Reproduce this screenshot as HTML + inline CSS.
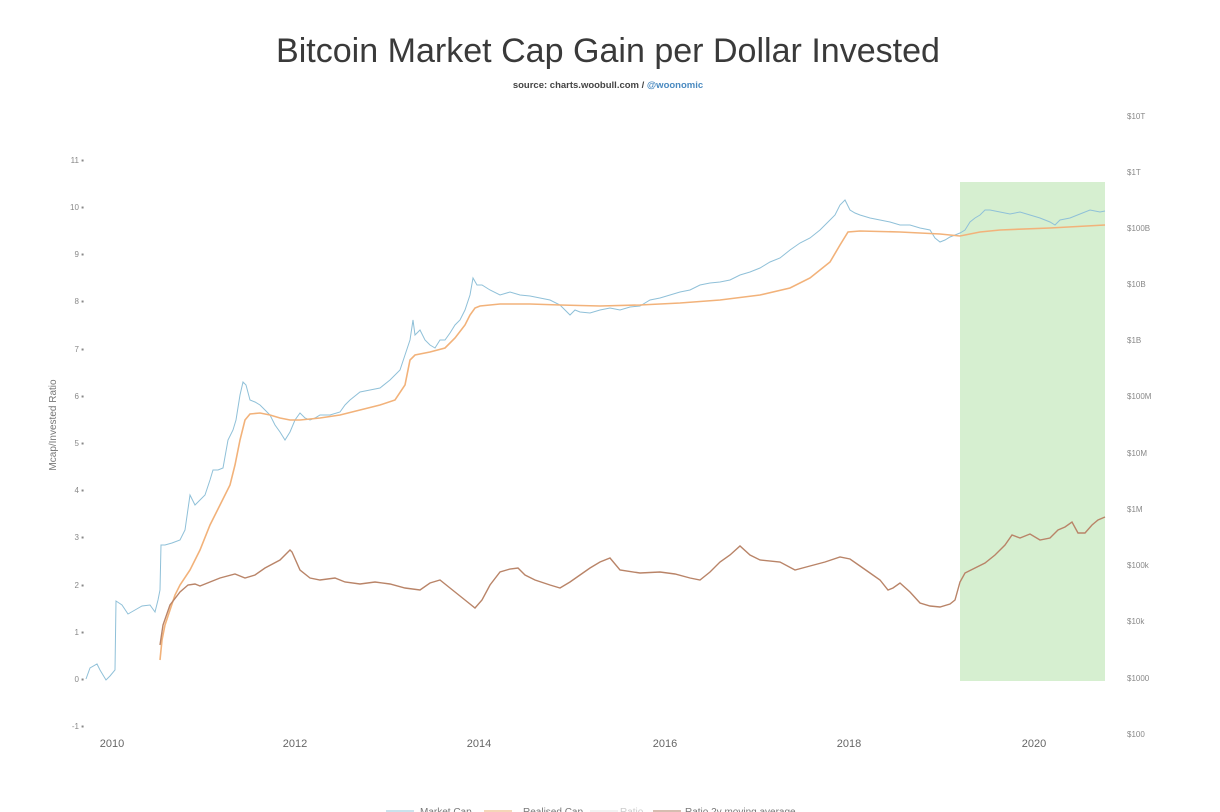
<!DOCTYPE html>
<html><head><meta charset="utf-8"><style>
body{margin:0;background:#fff;}
svg{display:block;font-family:"Liberation Sans",sans-serif;}
</style></head><body>
<svg width="1220" height="812" viewBox="0 0 1220 812">
<text x="608" y="62" text-anchor="middle" font-size="34" fill="#3a3a3a" textLength="664" lengthAdjust="spacingAndGlyphs">Bitcoin Market Cap Gain per Dollar Invested</text>
<text x="608" y="88" text-anchor="middle" font-size="9.5" font-weight="bold" fill="#444">source: charts.woobull.com / <tspan fill="#4a8ac0">@woonomic</tspan></text>
<rect x="960" y="182" width="145" height="499" fill="#d6efd0"/>
<g font-size="8" fill="#888" text-anchor="end">
<text x="84" y="163">11 ▪</text><text x="84" y="210">10 ▪</text><text x="84" y="257">9 ▪</text><text x="84" y="304">8 ▪</text><text x="84" y="352">7 ▪</text><text x="84" y="399">6 ▪</text><text x="84" y="446">5 ▪</text><text x="84" y="493">4 ▪</text><text x="84" y="540">3 ▪</text><text x="84" y="588">2 ▪</text><text x="84" y="635">1 ▪</text><text x="84" y="682">0 ▪</text><text x="84" y="729">-1 ▪</text>
</g>
<g font-size="8" fill="#888">
<text x="1127" y="119">$10T</text><text x="1127" y="175">$1T</text><text x="1127" y="231">$100B</text><text x="1127" y="287">$10B</text><text x="1127" y="343">$1B</text><text x="1127" y="399">$100M</text><text x="1127" y="456">$10M</text><text x="1127" y="512">$1M</text><text x="1127" y="568">$100k</text><text x="1127" y="624">$10k</text><text x="1127" y="681">$1000</text><text x="1127" y="737">$100</text>
</g>
<g font-size="11" fill="#666" text-anchor="middle">
<text x="112" y="747">2010</text><text x="295" y="747">2012</text><text x="479" y="747">2014</text><text x="665" y="747">2016</text><text x="849" y="747">2018</text><text x="1034" y="747">2020</text>
</g>
<text transform="translate(56,425) rotate(-90)" text-anchor="middle" font-size="10" fill="#777">Mcap/Invested Ratio</text>
<polyline fill="none" stroke="#8fc0d8" stroke-width="1" points="86,679 90,668 97,664 100,670 106,680 110,676 115,670 116,601 122,605 128,614 135,610 142,606 150,605 155,612 158,600 160,590 161,545 165,545 172,543 180,540 185,530 190,495 195,505 200,500 205,495 210,480 213,470 218,470 223,468 228,440 233,430 236,420 240,395 243,382 246,385 250,400 255,402 260,405 265,410 270,415 275,425 280,432 285,440 290,432 295,420 300,413 305,418 310,420 315,418 320,415 330,415 340,412 345,405 350,400 360,392 370,390 380,388 390,380 395,375 400,370 405,355 410,340 413,320 415,335 420,330 425,340 430,345 435,348 440,340 445,340 450,333 455,325 460,320 465,310 470,295 473,278 477,285 482,285 490,290 500,295 510,292 520,295 530,296 540,298 550,300 560,305 565,310 570,315 575,310 580,312 590,313 600,310 610,308 620,310 630,307 640,306 650,300 660,298 670,295 680,292 690,290 700,285 710,283 720,282 730,280 740,275 750,272 760,268 770,262 780,258 790,250 800,243 810,238 820,230 830,220 835,215 840,205 845,200 850,210 855,213 860,215 870,218 880,220 890,222 900,225 910,225 920,228 930,230 935,238 940,242 945,240 950,237 955,235 960,233 965,230 970,222 975,218 980,215 985,210 990,210 1000,212 1010,214 1020,212 1030,215 1040,218 1050,222 1055,225 1060,220 1070,218 1080,214 1090,210 1100,212 1105,211"/>
<polyline fill="none" stroke="#f2b27a" stroke-width="1.6" points="160,660 162,640 165,625 170,610 175,595 180,585 190,570 200,550 210,525 220,505 230,485 235,465 240,440 245,420 250,414 260,413 270,415 280,418 290,420 300,420 320,418 340,415 360,410 380,405 395,400 405,385 410,360 415,355 430,352 445,348 455,338 465,325 470,315 475,308 480,306 500,304 530,304 560,305 600,306 640,305 680,303 720,300 760,295 790,288 810,278 830,262 840,245 848,232 860,231 900,232 940,234 960,236 980,232 1000,230 1050,228 1105,225"/>
<polyline fill="none" stroke="#b98468" stroke-width="1.4" points="160,645 163,625 170,605 180,592 188,585 195,584 200,586 210,582 220,578 235,574 245,578 255,575 265,568 280,560 290,550 292,552 300,570 310,578 320,580 335,578 345,582 360,584 375,582 390,584 405,588 420,590 430,583 440,580 450,588 465,600 475,608 482,600 490,585 500,572 510,569 518,568 525,575 535,580 550,585 560,588 570,582 580,575 590,568 600,562 610,558 620,570 640,573 660,572 675,574 690,578 700,580 710,572 720,562 730,555 740,546 750,555 760,560 780,562 795,570 810,566 825,562 840,557 850,559 860,566 870,573 880,580 888,590 893,588 900,583 910,592 920,603 930,606 940,607 950,604 955,600 960,582 965,573 975,568 985,563 995,555 1005,545 1012,535 1020,538 1030,534 1040,540 1050,538 1058,530 1065,527 1072,522 1078,533 1085,533 1092,525 1098,520 1105,517"/>
<g font-size="10" fill="#777">
<line x1="386" y1="811" x2="414" y2="811" stroke="#b8d8e6" stroke-width="1.5"/><text x="420" y="815">Market Cap</text>
<line x1="484" y1="811" x2="512" y2="811" stroke="#f2c9a0" stroke-width="1.5"/><text x="523" y="815">Realised Cap</text>
<line x1="590" y1="811" x2="618" y2="811" stroke="#eee" stroke-width="1.5"/><text x="620" y="815" fill="#ccc">Ratio</text>
<line x1="653" y1="811" x2="681" y2="811" stroke="#c9a796" stroke-width="1.5"/><text x="685" y="815">Ratio 2y moving average</text>
</g>
</svg>
</body></html>
